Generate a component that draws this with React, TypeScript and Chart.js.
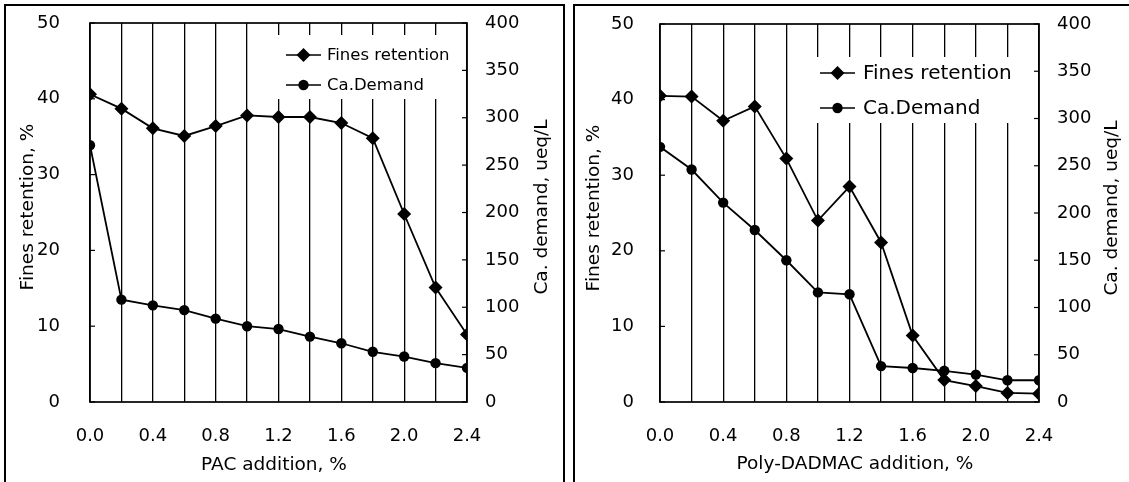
import React, { useEffect, useRef } from 'react';
import { Chart, registerables } from 'chart.js';

Chart.register(...registerables);

// ---------- data ----------
const xValues = [0, 0.2, 0.4, 0.6, 0.8, 1.0, 1.2, 1.4, 1.6, 1.8, 2.0, 2.2, 2.4];
const seriesLabels = ['Fines retention', 'Ca.Demand'];

const pacFinesRetention = [40.6, 38.7, 36.1, 35.1, 36.4, 37.8, 37.6, 37.6, 36.8, 34.8, 24.8, 15.1, 8.9];
const pacCaDemand = [271, 108, 102, 97, 88, 80, 77, 69, 62, 53, 48, 41, 36];

const dadmacFinesRetention = [40.5, 40.4, 37.2, 39.1, 32.2, 24.0, 28.5, 21.1, 8.8, 2.9, 2.1, 1.2, 1.1];
const dadmacCaDemand = [270, 246, 211, 182, 150, 116, 114, 38, 36, 33, 29, 23, 23];

const leftAxisTitle = 'Fines retention, %';
const rightAxisTitle = 'Ca. demand, ueq/L';
const pacXTitle = 'PAC addition, %';
const dadmacXTitle = 'Poly-DADMAC addition, %';

const FONT = '"DejaVu Sans", "Liberation Sans", Arial, sans-serif';

type Panel = {
  width: number;
  height: number;
  plotLeft: number;
  plotRight: number;
  plotTop: number;
  plotBottom: number;
  leftPad: number;
  rightPad: number;
  xTitle: string;
  xTitlePos: [number, number];
  yLeftTitleX: number;
  yRightTitleX: number;
  yTitleY: number;
  legendBox: [number, number, number, number];
  legendRows: [number, number];
  legendLine: [number, number];
  legendText: number;
  legendFont: number;
};

const pacPanel: Panel = {
  width: 565, height: 482,
  plotLeft: 90, plotRight: 467, plotTop: 23, plotBottom: 402,
  leftPad: 30, rightPad: 18,
  xTitle: pacXTitle, xTitlePos: [274, 465],
  yLeftTitleX: 28, yRightTitleX: 542, yTitleY: 207,
  legendBox: [274, 35, 181, 64], legendRows: [55, 85], legendLine: [286, 321], legendText: 327, legendFont: 16.5,
};

const dadmacPanel: Panel = {
  width: 564, height: 482,
  plotLeft: 95, plotRight: 474, plotTop: 24, plotBottom: 402,
  leftPad: 26, rightPad: 18,
  xTitle: dadmacXTitle, xTitlePos: [290, 464],
  yLeftTitleX: 29, yRightTitleX: 547, yTitleY: 208,
  legendBox: [240, 57, 225, 66], legendRows: [73, 108], legendLine: [255, 290], legendText: 298, legendFont: 20,
};

function drawDiamond(ctx: CanvasRenderingContext2D, x: number, y: number, r: number) {
  ctx.beginPath();
  ctx.moveTo(x, y - r);
  ctx.lineTo(x + r, y);
  ctx.lineTo(x, y + r);
  ctx.lineTo(x - r, y);
  ctx.closePath();
  ctx.fill();
}

function makePlugin(p: Panel) {
  return {
    id: 'panelDecor',
    beforeDatasetsDraw(chart: any) {
      const { ctx, chartArea: a } = chart;
      ctx.save();
      // legend background covering grid lines
      ctx.fillStyle = '#ffffff';
      ctx.fillRect(p.legendBox[0], p.legendBox[1], p.legendBox[2], p.legendBox[3]);
      // plot frame
      ctx.strokeStyle = '#000';
      ctx.lineWidth = 1.7;
      ctx.strokeRect(a.left, a.top, a.right - a.left, a.bottom - a.top);
      // inward ticks on y axes
      ctx.lineWidth = 1.2;
      const yl = chart.scales.y;
      const yr = chart.scales.y1;
      yl.ticks.forEach((t: any) => {
        const py = yl.getPixelForValue(t.value);
        ctx.beginPath();
        ctx.moveTo(a.left, py);
        ctx.lineTo(a.left + 5, py);
        ctx.stroke();
      });
      yr.ticks.forEach((t: any) => {
        const py = yr.getPixelForValue(t.value);
        ctx.beginPath();
        ctx.moveTo(a.right, py);
        ctx.lineTo(a.right - 5, py);
        ctx.stroke();
      });
      ctx.restore();
    },
    afterDatasetsDraw(chart: any) {
      const { ctx } = chart;
      ctx.save();
      ctx.fillStyle = '#000';
      ctx.strokeStyle = '#000';
      // legend
      chart.data.datasets.forEach((ds: any, i: number) => {
        const y = p.legendRows[i];
        ctx.lineWidth = 1.7;
        ctx.beginPath();
        ctx.moveTo(p.legendLine[0], y);
        ctx.lineTo(p.legendLine[1], y);
        ctx.stroke();
        const mx = (p.legendLine[0] + p.legendLine[1]) / 2;
        if (i === 0) {
          drawDiamond(ctx, mx, y, 7);
        } else {
          ctx.beginPath();
          ctx.arc(mx, y, 5.2, 0, Math.PI * 2);
          ctx.fill();
        }
        ctx.font = `${p.legendFont}px ${FONT}`;
        ctx.textAlign = 'left';
        ctx.textBaseline = 'middle';
        ctx.fillText(ds.label, p.legendText, y + 1);
      });
      // axis titles
      ctx.font = `18.5px ${FONT}`;
      ctx.textAlign = 'center';
      ctx.textBaseline = 'middle';
      ctx.fillText(p.xTitle, p.xTitlePos[0], p.xTitlePos[1]);
      ctx.save();
      ctx.translate(p.yLeftTitleX, p.yTitleY);
      ctx.rotate(-Math.PI / 2);
      ctx.fillText(leftAxisTitle, 0, 0);
      ctx.restore();
      ctx.save();
      ctx.translate(p.yRightTitleX, p.yTitleY);
      ctx.rotate(-Math.PI / 2);
      ctx.fillText(rightAxisTitle, 0, 0);
      ctx.restore();
      ctx.restore();
    },
  };
}

function buildChart(canvas: HTMLCanvasElement, p: Panel, fines: number[], ca: number[]) {
  const tickFont = { family: FONT, size: 18 };
  return new Chart(canvas, {
    type: 'line',
    data: {
      datasets: [
        {
          label: seriesLabels[0],
          data: xValues.map((x, i) => ({ x, y: fines[i] })),
          yAxisID: 'y',
          borderColor: '#000',
          backgroundColor: '#000',
          borderWidth: 1.8,
          pointStyle: 'rectRot',
          pointRadius: 7,
          pointBorderWidth: 0,
          tension: 0,
        },
        {
          label: seriesLabels[1],
          data: xValues.map((x, i) => ({ x, y: ca[i] })),
          yAxisID: 'y1',
          borderColor: '#000',
          backgroundColor: '#000',
          borderWidth: 1.8,
          pointStyle: 'circle',
          pointRadius: 5.2,
          pointBorderWidth: 0,
          tension: 0,
        },
      ],
    },
    options: {
      responsive: false,
      animation: false,
      devicePixelRatio: 1,
      layout: { padding: { top: p.plotTop, left: 0, right: 0, bottom: 0 } },
      plugins: { legend: { display: false }, tooltip: { enabled: false }, title: { display: false } },
      scales: {
        x: {
          type: 'linear',
          min: 0,
          max: 2.4,
          ticks: {
            stepSize: 0.2,
            autoSkip: false,
            maxRotation: 0,
            color: '#000',
            font: tickFont,
            padding: 24,
            callback: (v: any) => (Math.round(Number(v) * 10) % 4 === 0 ? Number(v).toFixed(1) : ''),
          },
          grid: { color: '#000', lineWidth: 1.3, drawTicks: false },
          border: { display: false },
          afterFit: (s: any) => {
            s.height = p.height - p.plotBottom;
            s.paddingLeft = 0;
            s.paddingRight = 0;
          },
        },
        y: {
          type: 'linear',
          position: 'left',
          min: 0,
          max: 50,
          ticks: { stepSize: 10, color: '#000', font: tickFont, padding: p.leftPad },
          grid: { display: false, drawTicks: false },
          border: { display: false },
          afterFit: (s: any) => {
            s.width = p.plotLeft;
            s.paddingTop = 0;
            s.paddingBottom = 0;
          },
        },
        y1: {
          type: 'linear',
          position: 'right',
          min: 0,
          max: 400,
          ticks: { stepSize: 50, color: '#000', font: tickFont, padding: p.rightPad },
          grid: { display: false, drawTicks: false },
          border: { display: false },
          afterFit: (s: any) => {
            s.width = p.width - p.plotRight;
            s.paddingTop = 0;
            s.paddingBottom = 0;
          },
        },
      },
    } as any,
    plugins: [makePlugin(p)],
  });
}

export default function App() {
  const leftRef = useRef<HTMLCanvasElement>(null);
  const rightRef = useRef<HTMLCanvasElement>(null);

  useEffect(() => {
    const c1 = buildChart(leftRef.current!, pacPanel, pacFinesRetention, pacCaDemand);
    const c2 = buildChart(rightRef.current!, dadmacPanel, dadmacFinesRetention, dadmacCaDemand);
    return () => {
      c1.destroy();
      c2.destroy();
    };
  }, []);

  return (
    <div style={{ position: 'absolute', left: 0, top: 0, width: 1129, height: 482, overflow: 'hidden', background: '#fff' }}>
      <div style={{ position: 'absolute', left: 4, top: 4, width: 561, height: 500, border: '2px solid #000', boxSizing: 'border-box' }} />
      <div style={{ position: 'absolute', left: 573, top: 4, width: 600, height: 500, border: '2px solid #000', boxSizing: 'border-box' }} />
      <canvas ref={leftRef} width={565} height={482} style={{ position: 'absolute', left: 0, top: 0 }} />
      <canvas ref={rightRef} width={564} height={482} style={{ position: 'absolute', left: 565, top: 0 }} />
    </div>
  );
}
